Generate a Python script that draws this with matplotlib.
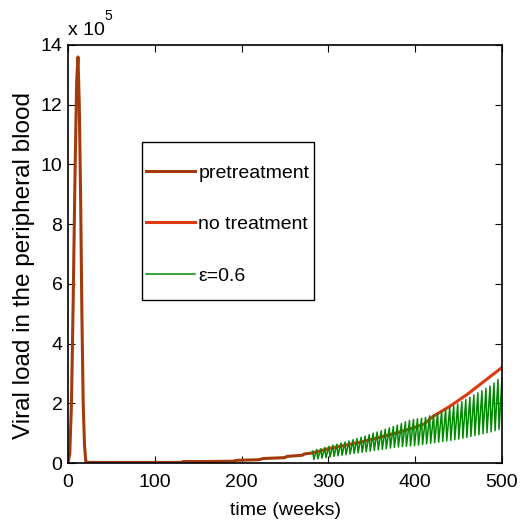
import matplotlib
matplotlib.use("Agg")
import matplotlib.pyplot as plt
from matplotlib.patches import Rectangle
import numpy as np

plt.rcParams['font.family'] = ['Liberation Sans', 'DejaVu Sans']

# pretreatment (weeks, x1e5)
pre_t = [0, 2, 4, 6, 8, 10, 11.5, 13, 14.5, 16, 17.5, 19, 20.5, 23, 60, 100, 130, 133,
         160, 190, 195, 220, 225, 250, 252, 270, 272, 282]
pre_v = [0, 0.3, 2.0, 5.5, 9.5, 12.8, 13.6, 12.0, 9.0, 5.0, 2.0, 0.6, 0.05, 0.02, 0.02, 0.02, 0.02, 0.05,
         0.05, 0.06, 0.09, 0.11, 0.15, 0.18, 0.22, 0.26, 0.30, 0.34]

# no treatment
no_t = [282, 300, 320, 340, 360, 380, 400, 410, 415, 420, 440, 460, 480, 500]
no_v = [0.34, 0.48, 0.60, 0.72, 0.87, 1.02, 1.20, 1.30, 1.42, 1.55, 1.90, 2.30, 2.75, 3.20]

# epsilon = 0.6 : cycle start times, peaks and troughs
eps_t = [282.0, 286.6, 291.3, 295.9, 300.6, 305.2, 309.8, 314.5, 319.1, 323.8, 328.4, 333.0,
         337.7, 342.3, 347.0, 351.6, 356.2, 360.9, 365.5, 370.2, 374.8, 379.4, 384.1, 388.7,
         393.4, 398.0, 402.6, 407.3, 411.9, 416.6, 421.2, 425.8, 430.5, 435.1, 439.8, 444.4,
         449.0, 453.7, 458.3, 463.0, 467.6, 472.2, 476.9, 481.5, 486.2, 490.8, 495.4]
eps_peak = [0.40, 0.45, 0.48, 0.52, 0.56,
            0.60, 0.63, 0.67, 0.70, 0.74, 0.78,
            0.82, 0.86, 0.90, 0.95, 1.00,
            1.04, 1.08, 1.13, 1.18, 1.22, 1.27,
            1.32, 1.38, 1.42, 1.46, 1.48,
            1.50, 1.53, 1.58, 1.62, 1.68,
            1.74, 1.80, 1.86, 1.92, 1.98,
            2.05, 2.12, 2.20, 2.28, 2.35,
            2.42, 2.50, 2.58, 2.68, 2.80]
eps_trough = [0.12, 0.14, 0.16, 0.18, 0.20,
              0.22, 0.24, 0.26, 0.28, 0.30, 0.32,
              0.34, 0.36, 0.38, 0.40, 0.42,
              0.44, 0.46, 0.48, 0.50, 0.52, 0.54,
              0.55, 0.56, 0.57, 0.58, 0.60,
              0.62, 0.64, 0.66, 0.68, 0.70,
              0.72, 0.74, 0.76, 0.78, 0.80,
              0.83, 0.86, 0.89, 0.92, 0.95,
              0.98, 1.01, 1.04, 1.08, 1.12]
eps_end_t = 500
eps_end_v = 2.85
drop_lag = 1.2

gx, gy = [], []
for t, p, tr in zip(eps_t, eps_peak, eps_trough):
    gx += [t, t + drop_lag]
    gy += [p, tr]
gx.append(eps_end_t)
gy.append(eps_end_v)

scale = 1e5
W, H = 524, 525
fig = plt.figure(figsize=(W/100, H/100), dpi=100)
ax = fig.add_axes([68/W, 1-463/H, 434/W, 418/H])

ax.plot(pre_t, np.array(pre_v)*scale, color='#a33a0c', lw=2.2, label='pretreatment')
ax.plot(no_t, np.array(no_v)*scale, color='#dd3a12', lw=2.2, label='no treatment')
ax.plot(gx, np.array(gy)*scale, color='#008a00', lw=1.1, label='ε=0.6')

ax.set_xlim(0, 500)
ax.set_ylim(0, 14e5)
ax.set_xticks([0, 100, 200, 300, 400, 500])
ax.set_yticks(np.arange(0, 15, 2)*scale)
ax.set_yticklabels([str(v) for v in range(0, 15, 2)])
ax.tick_params(direction='in', top=True, right=True, length=5, width=0.8, labelsize=14)
ax.tick_params(axis='x', pad=8)
ax.tick_params(axis='y', pad=4)
for s in ax.spines.values():
    s.set_linewidth(1.2)

ax.set_xlabel('time (weeks)', fontsize=14, labelpad=8)
ax.set_ylabel('Viral load in the peripheral blood', fontsize=17.5)
ax.yaxis.set_label_coords((35-68)/434, (463-266)/418)

fig.text(68/W, 1-35/H, 'x 10', fontsize=14, ha='left', va='baseline')
fig.text(104/W, 1-20/H, '5', fontsize=10, ha='left', va='baseline')

# legend box drawn as a rectangle, entries placed inside without frame
box = Rectangle(((142-68)/434, (463-300)/418), 172/434, 158/418, transform=ax.transAxes,
                facecolor='white', edgecolor='black', linewidth=1.0, zorder=4)
ax.add_patch(box)
leg = ax.legend(loc='upper left', bbox_to_anchor=((146-68)/434, (463-164)/418), borderaxespad=0,
                fontsize=14, labelspacing=1.75, handlelength=2.5, handletextpad=0.2,
                borderpad=0, frameon=False)
leg.set_zorder(5)

fig.savefig('out.png', dpi=100)
